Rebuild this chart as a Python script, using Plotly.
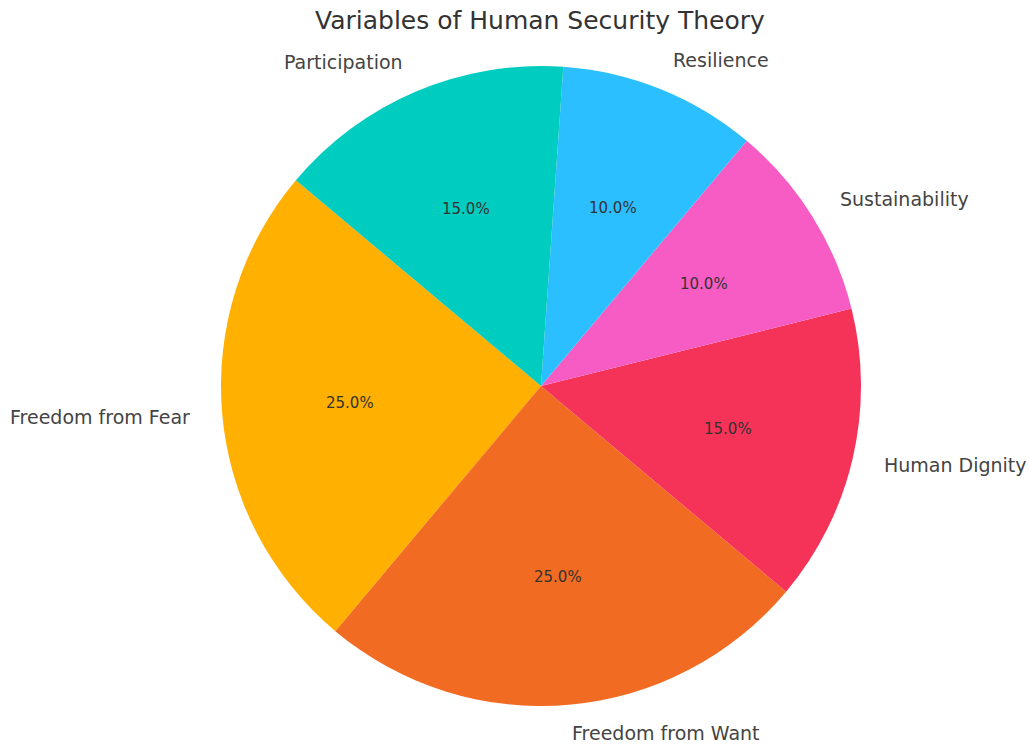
import math
import plotly.graph_objects as go

labels = ["Freedom from Fear", "Freedom from Want", "Human Dignity",
          "Sustainability", "Resilience", "Participation"]
values = [25, 25, 15, 10, 10, 15]
colors = ["#FFB000", "#F26B22", "#F53257", "#F75CC4", "#2BBFFF", "#00CCC0"]
title_text = "Variables of Human Security Theory"

W, H = 1029, 746
cx, cy, R = 541, 386, 320     # pie centre / radius in figure pixels
start_deg = 140               # matplotlib-style start angle (ccw from 3 o'clock)

total = sum(values)
# plotly (counterclockwise): first slice ends at `rotation` (clockwise from 12 o'clock)
rotation = 90 - start_deg - 360 * values[0] / total

fig = go.Figure(go.Pie(
    labels=labels, values=values, sort=False, direction="counterclockwise",
    rotation=rotation,
    marker=dict(colors=colors, line=dict(width=0)),
    textinfo="none", showlegend=False,
    domain=dict(x=[(cx - R) / W, (cx + R) / W],
                y=[1 - (cy + R) / H, 1 - (cy - R) / H]),
))

ann = []
acc = 0.0
for lab, v in zip(labels, values):
    mid = math.radians(start_deg + 360 * (acc + v / 2) / total)
    acc += v
    c, s = math.cos(mid), math.sin(mid)
    lx, ly = cx + 1.1 * R * c, cy - 1.1 * R * s
    ly = min(ly, H - 13)      # keep the text box inside the page
    ann.append(dict(x=lx / W, y=1 - ly / H, xref="paper", yref="paper",
                    text=lab, showarrow=False,
                    xanchor="left" if c > 0 else "right", yanchor="middle",
                    xshift=-2 if c > 0 else 2,
                    font=dict(family="DejaVu Sans", size=19, color="#444444")))
    px, py = cx + 0.6 * R * c, cy - 0.6 * R * s
    ann.append(dict(x=px / W, y=1 - py / H, xref="paper", yref="paper",
                    text=f"{100 * v / total:.1f}%", showarrow=False,
                    xanchor="center", yanchor="middle",
                    font=dict(family="DejaVu Sans", size=15, color="#333333")))

ann.append(dict(x=540 / W, y=1 - 20 / H, xref="paper", yref="paper",
                text=title_text, showarrow=False, xanchor="center", yanchor="middle",
                font=dict(family="DejaVu Sans", size=25, color="#333333")))

fig.update_layout(width=W, height=H, margin=dict(l=0, r=0, t=0, b=0),
                  paper_bgcolor="white", plot_bgcolor="white",
                  annotations=ann)
fig.write_html("out.html", config={"displayModeBar": False},
               post_script="document.body.style.margin='0';"
                           "document.body.style.overflow='hidden';")
